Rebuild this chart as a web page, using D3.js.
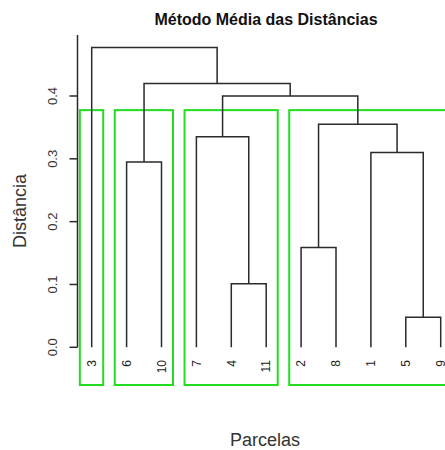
<!DOCTYPE html>
<html>
<head>
<meta charset="utf-8">
<script src="https://cdn.jsdelivr.net/npm/d3@7"></script>
<style>
  html, body { margin: 0; padding: 0; background: #fff; }
  svg { display: block; }
  text { font-family: "Liberation Sans", Arial, sans-serif; }
</style>
</head>
<body>
<svg id="chart" width="445" height="450"></svg>
<script>
// ---- Data ----
const title = "Método Média das Distâncias";
const xTitle = "Parcelas";
const yTitle = "Distância";
// leaf order along the x axis
const leafOrder = [3, 6, 10, 7, 4, 11, 2, 8, 1, 5, 9];
// merge table (R hclust convention: negative = observation, positive = earlier merge row)
const mergeLeft  = [-5, -4, -2, -6, -1, -7, 3, 6, 4, -3];
const mergeRight = [-9, -11, -8, -10, 1, 2, 5, 7, 8, 9];
const mergeHeight = [0.048, 0.101, 0.159, 0.295, 0.310, 0.335, 0.355, 0.400, 0.420, 0.477];
const yTicks = [0.0, 0.1, 0.2, 0.3, 0.4];
const kClusters = 4;

// ---- Layout ----
const svg = d3.select("#chart");
const x = d3.scaleLinear().domain([1, leafOrder.length]).range([91.7, 440.7]);
const y = d3.scaleLinear().domain([0, 0.4]).range([347.3, 96]);
const axisX = 77.5;
const plotTop = 35;
const plotBottom = 385;
const lineColor = "#2a2a2a";
const boxColor = "#22dd22";

// position of each observation
const leafPos = {};
leafOrder.forEach((obs, i) => leafPos[obs] = i + 1);

// node position (x in leaf units, height)
const nodes = [];
function nodeInfo(ref) {
  if (ref < 0) return { xu: leafPos[-ref], h: 0 };
  return nodes[ref - 1];
}
mergeLeft.forEach((l, i) => {
  const a = nodeInfo(l), b = nodeInfo(mergeRight[i]);
  nodes.push({ xu: (a.xu + b.xu) / 2, h: mergeHeight[i], a, b });
});

// ---- Cluster rectangles (like rect.hclust) ----
function leavesOf(ref) {
  if (ref < 0) return [-ref];
  return leavesOf(mergeLeft[ref - 1]).concat(leavesOf(mergeRight[ref - 1]));
}
const n = mergeHeight.length;
// clusters = children of the top (k-1) merges that are not themselves among the top merges
const topMerges = d3.range(n - kClusters + 1, n).map(i => i + 1); // merge ids (1-based)
const clusterRefs = [];
topMerges.forEach(id => {
  [mergeLeft[id - 1], mergeRight[id - 1]].forEach(c => {
    if (!(c > 0 && topMerges.includes(c))) clusterRefs.push(c);
  });
});
const clusters = clusterRefs.map(c => {
  const pos = leavesOf(c).map(o => leafPos[o]);
  return { lo: d3.min(pos), hi: d3.max(pos) };
}).sort((a, b) => a.lo - b.lo);
const sortedH = mergeHeight.slice().sort((a, b) => b - a);
const cutH = (sortedH[kClusters - 2] + sortedH[kClusters - 1]) / 2;

const gBox = svg.append("g");
clusters.forEach(c => {
  const x0 = x(c.lo - 1 + 0.66), x1 = x(c.hi + 0.33);
  gBox.append("rect")
    .attr("x", x0).attr("y", y(cutH))
    .attr("width", x1 - x0).attr("height", plotBottom - y(cutH))
    .attr("fill", "none").attr("stroke", boxColor).attr("stroke-width", 2);
});

// ---- Dendrogram ----
const gTree = svg.append("g")
  .attr("fill", "none").attr("stroke", lineColor).attr("stroke-width", 1.5);
nodes.forEach(nd => {
  const p = d3.path();
  p.moveTo(x(nd.a.xu), y(nd.a.h));
  p.lineTo(x(nd.a.xu), y(nd.h));
  p.lineTo(x(nd.b.xu), y(nd.h));
  p.lineTo(x(nd.b.xu), y(nd.b.h));
  gTree.append("path").attr("d", p.toString());
});

// leaf labels
svg.append("g").selectAll("text").data(leafOrder).join("text")
  .attr("transform", (d, i) => `translate(${x(i + 1)},360) rotate(-90)`)
  .attr("text-anchor", "end").attr("dy", "0.35em")
  .attr("font-size", 12).attr("fill", "#222")
  .text(d => d);

// ---- Y axis ----
const gAxis = svg.append("g").attr("transform", `translate(${axisX},0)`);
gAxis.append("line").attr("x1", 0).attr("x2", 0)
  .attr("y1", plotTop).attr("y2", y(0))
  .attr("stroke", lineColor).attr("stroke-width", 1.5);
const ticks = gAxis.selectAll("g.tick").data(yTicks).join("g")
  .attr("transform", d => `translate(0,${y(d)})`);
ticks.append("line").attr("x1", -8).attr("x2", 0)
  .attr("stroke", lineColor).attr("stroke-width", 1.5);
ticks.append("text")
  .attr("transform", "translate(-25,0) rotate(-90)")
  .attr("text-anchor", "middle").attr("dy", "0.35em")
  .attr("font-size", 13).attr("fill", "#333")
  .text(d => d3.format(".1f")(d));

// ---- Titles ----
svg.append("text").attr("x", 266).attr("y", 25)
  .attr("text-anchor", "middle").attr("font-size", 16).attr("font-weight", "bold")
  .attr("fill", "#111").text(title);
svg.append("text").attr("x", 265).attr("y", 446)
  .attr("text-anchor", "middle").attr("font-size", 18)
  .attr("fill", "#333").text(xTitle);
svg.append("text")
  .attr("transform", "translate(20,211) rotate(-90)")
  .attr("text-anchor", "middle").attr("dy", "0.35em").attr("font-size", 18)
  .attr("fill", "#333").text(yTitle);
</script>
</body>
</html>
